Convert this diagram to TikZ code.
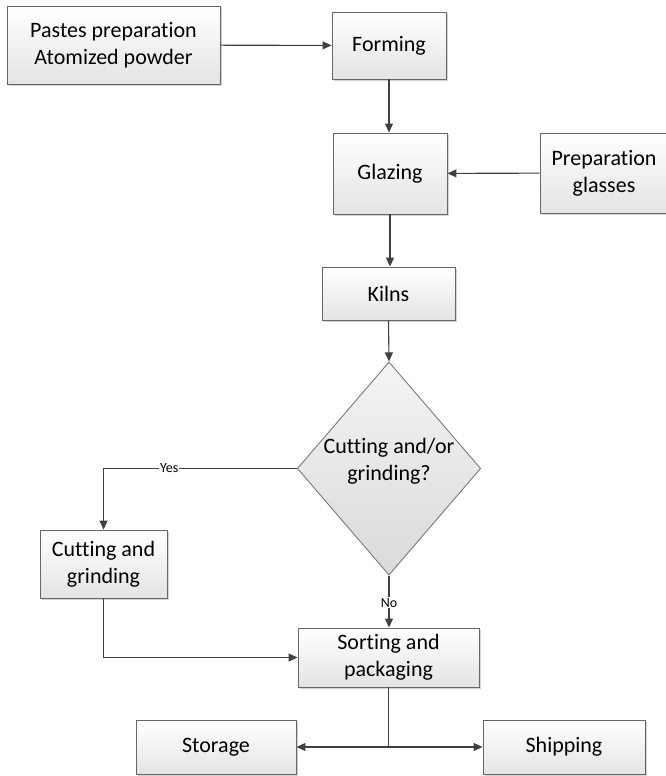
\documentclass[tikz,border=0pt]{standalone}
\usepackage{fontspec}
\setmainfont{Carlito}[Ligatures=NoCommon]
\usepackage{tikz}
\usetikzlibrary{arrows.meta,shapes.geometric,shadows}

\definecolor{linegray}{HTML}{404040}
\definecolor{boxgray}{HTML}{E4E4E4}

\begin{document}
\begin{tikzpicture}[
    x=1pt, y=-1pt,
    font=\fontsize{22}{27}\selectfont,
    box/.style={rectangle, draw=linegray!80, line width=0.9pt, top color=white, bottom color=boxgray,
        drop shadow={shadow xshift=1.5pt, shadow yshift=-1.5pt, opacity=0.35},
        inner sep=2pt, align=center},
    decision/.style={diamond, aspect=0.86, draw=linegray!70, line width=0.9pt, top color=white!60!boxgray, bottom color=boxgray!90!gray,
        inner sep=0pt, align=center},
    arrow/.style={draw=linegray, line width=1.1pt, -{Triangle[length=9pt,width=8pt]}},
    link/.style={draw=linegray, line width=1.1pt},
    answer/.style={font=\fontsize{14}{16}\selectfont, fill=white, inner sep=1pt}
]
\useasboundingbox (0,0) rectangle (665,776);

% --- UPPER PART ---
\node (pastes)  [box, minimum width=213pt, minimum height=78pt] at (113.5,45) {Pastes preparation\\Atomized powder};
\node (forming) [box, minimum width=114pt, minimum height=67pt] at (389,45.5) {Forming};
\node (glazing) [box, minimum width=114pt, minimum height=81pt] at (390,173.5) {Glazing};
\node (glasses) [box, minimum width=128pt, minimum height=80pt] at (604,173) {Preparation\\glasses};
\node (kilns)   [box, minimum width=133pt, minimum height=53pt] at (388.5,293.5) {Kilns};

% --- DECISION ---
\node (cut_q)   [decision, minimum width=182pt, minimum height=211pt] at (389,468.5) {Cutting and/or\\grinding?\\[-8pt]};
\node (cutting) [box, minimum width=127pt, minimum height=68pt] at (103.5,564) {Cutting and\\grinding};

% --- LOWER PART ---
\node (sorting) [box, minimum width=181pt, minimum height=59pt] at (388.5,657.5) {Sorting and\\packaging};
\node (storage) [box, minimum width=160pt, minimum height=54pt] at (216,747) {Storage};
\node (shipping)[box, minimum width=162pt, minimum height=54pt] at (564,747) {Shipping};
\coordinate (split) at (sorting.south |- storage.east);

% --- PATHS ---
\draw [arrow] (pastes) -- (forming);
\draw [arrow] (forming) -- (forming.south |- glazing.north);
\draw [arrow] (glasses) -- (glazing);
\draw [arrow] (glazing.south) -- (glazing.south |- kilns.north);
\draw [arrow] (kilns.south) -- (cut_q.north);

% Yes / No branches
\draw [arrow] (cut_q.west) -| node[answer, pos=0.33] {Yes} (cutting.north);
\draw [arrow] (cut_q.south) -- node[answer, pos=0.52] {No} (cut_q.south |- sorting.north);
\draw [arrow] (cutting.south) |- (sorting.west);

% Final split
\draw [link] (sorting.south) -- (split);
\draw [arrow] (split) -- (storage.east);
\draw [arrow] (split) -- (shipping.west);

\end{tikzpicture}
\end{document}
